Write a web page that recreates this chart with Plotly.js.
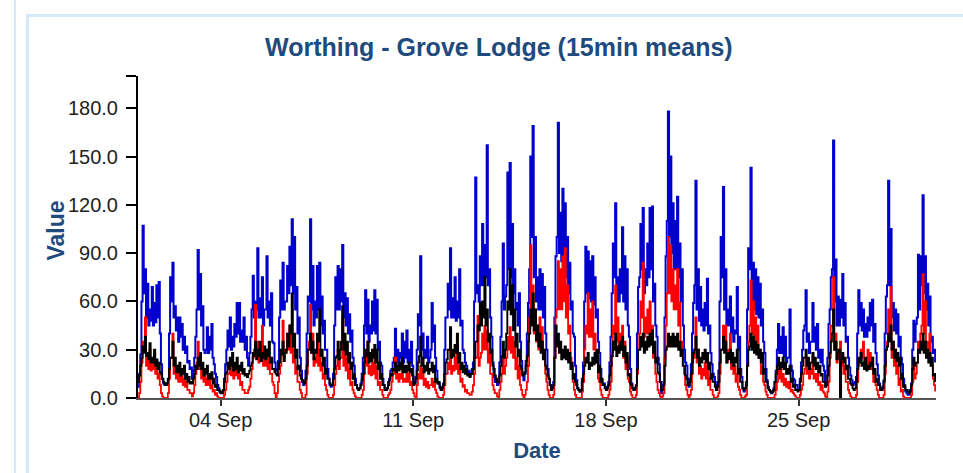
<!DOCTYPE html>
<html>
<head>
<meta charset="utf-8">
<script src="https://cdn.plot.ly/plotly-3.0.1.min.js"></script>
<style>
  html, body { margin: 0; padding: 0; background: #ffffff; width: 963px; height: 473px; overflow: hidden; }
  #vline { position: absolute; left: 14px; top: 0; width: 2px; height: 473px; background: #d3e7f8; }
  #box { position: absolute; left: 26px; top: 14px; width: 1000px; height: 600px;
         border-left: 3px solid #d6e9f9; border-top: 3px solid #d6e9f9; }
  #chart { position: absolute; left: 0; top: 0; width: 963px; height: 473px; }
</style>
</head>
<body>
<div id="vline"></div>
<div id="box"></div>
<div id="chart"></div>
<script>
// ---- data, 1 Sep .. 29 Sep ----
// Each series: band tops read at 00,02,..,22 h and band bottoms read at 01,03,..,23 h
const startDay = "2023-09-01";

const blueEvenHours = [
  7,27,107,80,71,55,69,59,70,72,21,9,
  8,11,75,84,57,50,50,46,38,32,23,19,
  17,38,92,77,57,28,44,38,46,21,13,6,
  3,5,21,42,50,38,46,59,59,42,50,38,
  20,38,76,60,93,62,75,55,88,60,65,34,
  17,23,73,84,60,82,94,111,100,69,50,17,
  8,17,63,111,82,60,82,84,63,48,30,12,
  7,15,75,82,80,95,65,62,52,42,20,8,
  6,9,25,67,61,45,60,67,61,35,20,8,
  5,10,17,22,43,30,28,40,35,42,30,35,
  10,13,52,88,40,30,38,25,59,45,17,9,
  5,9,50,71,93,62,75,60,80,48,28,20,
  17,15,22,137,70,88,108,95,157,80,38,13,
  11,9,38,96,63,140,146,108,80,59,65,23,
  11,23,59,150,169,100,75,80,77,69,30,12,
  6,10,88,171,115,130,121,100,84,60,38,11,
  5,5,22,94,91,85,88,75,55,28,11,9,
  7,10,38,96,121,75,80,106,88,80,38,9,
  5,7,69,108,118,80,96,118,119,71,38,21,
  3,10,88,178,150,121,110,125,96,80,30,20,
  7,21,59,135,80,69,55,59,74,45,21,13,
  5,17,100,131,80,55,63,50,42,69,38,13,
  4,10,93,143,84,80,75,71,55,28,11,5,
  3,6,17,46,38,44,38,25,55,17,11,8,
  5,22,42,67,40,35,59,44,46,30,30,17,
  9,46,75,160,86,63,61,77,59,38,19,11,
  9,13,67,59,55,46,50,59,61,46,21,9,
  5,11,63,135,105,59,55,52,38,21,7,3,
  2,9,48,46,89,88,126,88,71,63,38,30
];
const blueOddHours = [
  15,60,65,50,45,48,45,47,50,40,12,8,
  9,40,60,50,42,35,38,30,28,22,18,12,
  25,55,55,45,30,30,28,30,25,15,8,4,
  3,12,30,32,30,32,38,40,35,35,30,25,
  28,55,50,55,50,50,45,55,50,45,35,22,
  18,50,55,55,60,65,70,65,55,40,25,10,
  10,40,60,55,45,50,55,45,40,30,18,8,
  8,45,55,55,60,50,45,40,35,25,12,6,
  6,15,45,40,35,40,42,40,30,22,12,5,
  6,12,18,25,22,20,25,22,25,22,22,20,
  10,30,45,30,25,25,22,30,35,25,10,6,
  6,30,50,55,50,50,48,50,45,30,22,15,
  14,18,60,65,60,70,70,75,70,50,22,10,
  8,22,60,55,70,80,75,65,55,45,35,15,
  15,40,80,100,75,60,55,55,50,40,18,8,
  7,50,100,90,85,80,75,65,55,40,20,6,
  4,12,60,65,62,60,58,50,35,18,8,6,
  7,22,65,75,60,60,65,60,55,45,18,6,
  5,40,75,80,65,70,75,80,60,45,25,10,
  5,50,110,100,90,80,80,75,60,45,22,12,
  12,40,70,55,48,45,42,45,40,28,15,8,
  10,60,75,55,45,45,40,35,40,30,18,6,
  6,55,80,60,55,52,50,45,35,18,7,4,
  4,10,30,28,28,26,22,25,20,12,8,5,
  12,30,45,35,28,35,35,30,25,22,20,10,
  25,55,80,60,45,45,50,45,35,25,14,8,
  10,40,45,42,38,38,42,45,35,28,14,6,
  7,40,70,70,50,42,40,32,25,12,4,2,
  5,30,35,50,55,70,65,55,45,35,28,22
];

const redEvenHours = [
  0,10,35,50,25,30,22,28,20,15,3,0,
  0,3,25,40,20,18,15,17,12,10,5,3,
  3,15,35,20,18,15,12,15,8,5,3,0,
  0,0,5,15,22,20,18,20,15,10,5,3,
  5,12,25,58,35,28,45,25,30,25,15,8,
  0,10,20,48,30,40,45,40,30,20,10,3,
  0,2,30,58,40,25,38,30,22,15,5,0,
  0,2,15,30,25,50,30,25,18,10,3,0,
  0,0,5,25,35,20,22,25,20,10,5,0,
  0,2,5,15,25,15,15,20,12,18,15,10,
  3,0,15,20,18,12,10,8,12,10,3,0,
  0,2,15,22,30,20,25,34,20,12,8,5,
  3,2,8,25,51,25,40,45,42,30,15,5,
  3,0,10,25,20,38,44,38,35,25,20,5,
  0,5,20,95,70,55,40,50,44,30,10,2,
  0,2,50,85,80,88,93,70,45,20,5,0,
  0,0,10,45,65,55,60,40,25,10,2,0,
  0,2,10,45,70,50,40,45,35,25,10,2,
  0,2,30,60,84,50,55,60,45,30,10,3,
  0,3,45,100,95,80,70,80,59,35,15,5,
  0,5,25,50,30,20,18,22,20,12,5,0,
  0,3,30,45,45,30,40,25,20,15,5,0,
  0,2,35,73,60,50,45,30,20,8,2,0,
  0,0,5,18,20,15,12,10,10,5,2,0,
  0,5,15,25,20,18,25,15,15,10,8,3,
  0,10,45,75,40,30,35,25,20,10,3,0,
  0,2,20,30,35,25,30,28,25,15,5,0,
  0,2,30,55,69,35,30,20,12,5,0,0,
  0,2,20,15,35,40,77,60,35,40,20,8
];
const redOddHours = [
  3,22,30,20,18,17,18,15,12,8,1,0,
  0,12,25,15,12,10,10,8,7,5,3,1,
  8,22,18,12,10,8,8,6,4,2,1,0,
  0,2,10,15,14,12,14,12,8,5,3,3,
  7,18,30,28,22,25,20,20,18,15,10,3,
  3,15,28,25,28,30,28,22,15,10,5,0,
  0,15,35,28,20,22,20,17,12,8,2,0,
  0,8,20,18,25,20,17,12,8,5,1,0,
  0,2,15,20,15,14,15,12,8,5,2,0,
  0,3,10,15,12,10,12,10,10,10,8,5,
  1,8,12,12,8,7,6,8,7,5,1,0,
  0,8,15,18,15,17,18,15,10,7,4,3,
  2,4,15,25,20,28,30,30,22,15,8,3,
  1,5,15,15,25,30,28,25,18,12,8,2,
  2,10,50,55,40,35,30,30,25,15,5,0,
  0,25,55,55,55,60,50,40,25,10,2,0,
  0,4,30,40,38,38,30,22,12,5,0,0,
  0,5,28,40,35,30,30,25,18,12,4,0,
  0,15,40,50,38,40,40,35,25,15,5,1,
  1,25,65,65,60,55,55,45,30,20,8,2,
  2,15,30,22,15,12,14,12,8,5,2,0,
  1,15,30,30,22,25,18,15,10,7,2,0,
  1,20,45,40,35,30,25,15,10,4,0,0,
  0,2,10,12,10,8,7,6,4,3,1,0,
  2,8,18,15,12,15,12,10,8,5,4,1,
  4,25,45,30,22,25,20,15,10,5,1,0,
  0,10,22,25,18,20,20,18,10,8,2,0,
  0,15,35,40,25,20,15,8,4,1,0,0,
  0,10,12,22,28,45,40,28,25,22,12,4
];

const blackEvenHours = [
  10,20,32,38,28,34,25,30,24,22,15,10,
  8,12,25,35,25,20,22,18,20,15,13,10,
  12,20,25,28,22,18,20,15,16,12,8,5,
  3,5,15,22,25,28,22,25,20,22,18,15,
  15,20,28,35,30,35,28,32,30,35,25,18,
  15,18,30,35,28,40,45,65,40,30,20,12,
  10,12,30,40,35,30,40,55,30,25,18,12,
  8,12,25,35,30,57,40,35,28,22,15,8,
  5,8,15,30,35,28,30,33,30,22,15,8,
  5,8,15,18,22,20,22,25,20,20,22,18,
  8,12,22,38,25,20,22,18,22,20,12,10,
  5,8,22,30,44,30,33,40,28,22,20,18,
  15,15,18,35,45,59,60,75,55,40,30,18,
  12,10,20,35,30,60,80,70,55,40,30,18,
  15,20,35,55,65,55,45,40,35,30,18,12,
  5,8,45,40,35,30,32,30,28,22,15,8,
  5,5,15,25,28,22,25,28,30,20,12,8,
  5,8,20,35,40,32,35,38,32,28,15,8,
  5,8,30,38,40,35,38,40,42,35,25,15,
  5,8,30,40,38,40,38,40,35,30,20,12,
  8,15,28,38,30,25,28,30,28,22,15,10,
  5,10,30,38,35,28,30,28,25,30,18,10,
  5,8,30,40,38,35,33,30,28,18,10,5,
  3,5,15,25,22,25,22,18,20,12,8,5,
  5,15,25,30,25,22,28,25,22,20,15,10,
  8,20,35,55,35,28,0,28,25,20,12,8,
  5,10,25,28,22,25,20,22,25,18,12,8,
  5,10,30,40,45,35,30,28,25,15,8,5,
  3,8,25,22,30,35,40,35,30,28,25,15
];
const blackOddHours = [
  14,25,28,26,24,22,22,20,18,16,12,9,
  9,18,25,20,16,16,14,15,12,10,9,9,
  15,18,20,18,14,15,12,12,9,7,5,4,
  3,10,16,18,20,17,18,16,17,15,14,13,
  17,22,26,24,26,23,25,24,26,22,18,16,
  14,22,27,23,30,32,40,32,25,18,14,11,
  9,20,30,28,24,28,35,26,20,15,12,9,
  8,18,26,24,35,30,27,22,18,12,8,6,
  6,11,22,26,22,23,25,22,18,12,8,5,
  6,11,14,17,16,17,18,16,16,17,16,14,
  9,17,26,20,16,17,15,17,16,10,9,7,
  6,15,24,30,25,26,28,22,18,16,15,14,
  13,15,25,35,42,45,50,45,35,28,20,14,
  10,14,26,25,40,55,52,42,32,26,20,14,
  16,26,40,45,42,36,32,28,24,20,14,8,
  6,25,32,28,24,25,24,22,18,12,10,6,
  4,10,20,22,18,20,21,22,16,10,8,6,
  6,14,26,30,26,28,30,26,22,14,9,6,
  6,18,30,32,28,30,32,33,28,22,16,10,
  5,20,32,32,32,32,32,30,26,20,14,8,
  10,22,30,25,20,22,24,22,18,12,10,7,
  7,22,30,28,22,24,22,20,22,15,10,6,
  6,20,32,30,28,27,25,22,15,10,6,4,
  4,10,20,18,19,18,15,15,10,7,5,4,
  10,20,25,20,18,22,20,18,16,14,10,7,
  14,28,40,30,24,30,24,22,18,12,9,6,
  6,18,22,20,18,17,18,20,15,10,8,5,
  6,20,32,35,30,25,23,20,12,7,5,4,
  4,18,20,22,28,30,28,25,22,20,14,10
];

const seriesNames = ["NOx", "NO", "NO2"];
const seriesColors = ["#0000cc", "#ff0000", "#000000"];
const xTickDates = ["2023-09-04", "2023-09-11", "2023-09-18", "2023-09-25"];
const xTickLabels = ["04 Sep", "11 Sep", "18 Sep", "25 Sep"];
const yTickVals = [0, 30, 60, 90, 120, 150, 180, 200];
const yTickLabels = ["0.0", "30.0", "60.0", "90.0", "120.0", "150.0", "180.0", ""];

// ---- timestamps ----
function pad(n) { return (n < 10 ? "0" : "") + n; }
function stamps(n, stepHours, offsetHours) {
  const [Y, M, D] = startDay.split("-").map(Number);
  const base = Date.UTC(Y, M - 1, D) + offsetHours * 3600 * 1000;
  const out = [];
  for (let i = 0; i < n; i++) {
    const d = new Date(base + i * stepHours * 3600 * 1000);
    out.push(d.getUTCFullYear() + "-" + pad(d.getUTCMonth() + 1) + "-" + pad(d.getUTCDate()) +
             " " + pad(d.getUTCHours()) + ":" + pad(d.getUTCMinutes()));
  }
  return out;
}
// merge even-hour and odd-hour readings into one hourly series
function hourly(even, odd) {
  const xe = stamps(even.length, 2, 0), xo = stamps(odd.length, 2, 1);
  const x = [], y = [];
  for (let i = 0; i < even.length; i++) {
    x.push(xe[i]); y.push(even[i]);
    x.push(xo[i]); y.push(odd[i]);
  }
  return { x, y };
}

const FONT = "Liberation Sans, Arial, sans-serif";
const TITLE_BLUE = "#1f4a7e";

const seriesData = [
  hourly(blueEvenHours, blueOddHours),
  hourly(redEvenHours, redOddHours),
  hourly(blackEvenHours, blackOddHours)
];
const widths = [2.0, 1.8, 1.9];

const traces = seriesData.map((s, i) => ({
  type: "scatter", mode: "lines", name: seriesNames[i],
  x: s.x, y: s.y,
  line: { color: seriesColors[i], width: widths[i], shape: "hv" },
  hoverinfo: "skip"
}));

const layout = {
  width: 963, height: 473,
  paper_bgcolor: "rgba(0,0,0,0)", plot_bgcolor: "rgba(0,0,0,0)",
  showlegend: false,
  margin: { l: 138, r: 27, t: 76, b: 75, pad: 0 },
  title: {
    text: "<b>Worthing - Grove Lodge (15min means)</b>",
    font: { family: FONT, size: 25, color: TITLE_BLUE },
    x: 0.518, xanchor: "center", xref: "container",
    y: 0.9, yanchor: "middle", yref: "container"
  },
  xaxis: {
    type: "date",
    range: ["2023-09-01 00:00", "2023-09-29 23:45"],
    tickmode: "array", tickvals: xTickDates, ticktext: xTickLabels,
    ticks: "outside", ticklen: 6, tickwidth: 2, tickcolor: "#333333",
    showline: true, linecolor: "#555555", linewidth: 2,
    showgrid: false, zeroline: false,
    ticklabelstandoff: -3,
    tickfont: { family: FONT, size: 20, color: "#222222" },
    title: { text: "<b>Date</b>", font: { family: FONT, size: 22, color: TITLE_BLUE }, standoff: 13 }
  },
  yaxis: {
    range: [0, 200],
    tickmode: "array", tickvals: yTickVals, ticktext: yTickLabels,
    ticks: "outside", ticklen: 10, tickwidth: 2, tickcolor: "#000000",
    showline: true, linecolor: "#000000", linewidth: 2,
    showgrid: false, zeroline: false,
    ticklabelstandoff: 4,
    tickfont: { family: FONT, size: 20, color: "#222222" }
  },
  annotations: [{
    text: "<b>Value</b>", textangle: -90, showarrow: false,
    xref: "paper", yref: "paper", x: (56 - 138) / 798, y: 0.52,
    xanchor: "center", yanchor: "middle",
    font: { family: FONT, size: 23, color: TITLE_BLUE }
  }]
};

Plotly.newPlot("chart", traces, layout, { staticPlot: true, displayModeBar: false });
</script>
</body>
</html>
